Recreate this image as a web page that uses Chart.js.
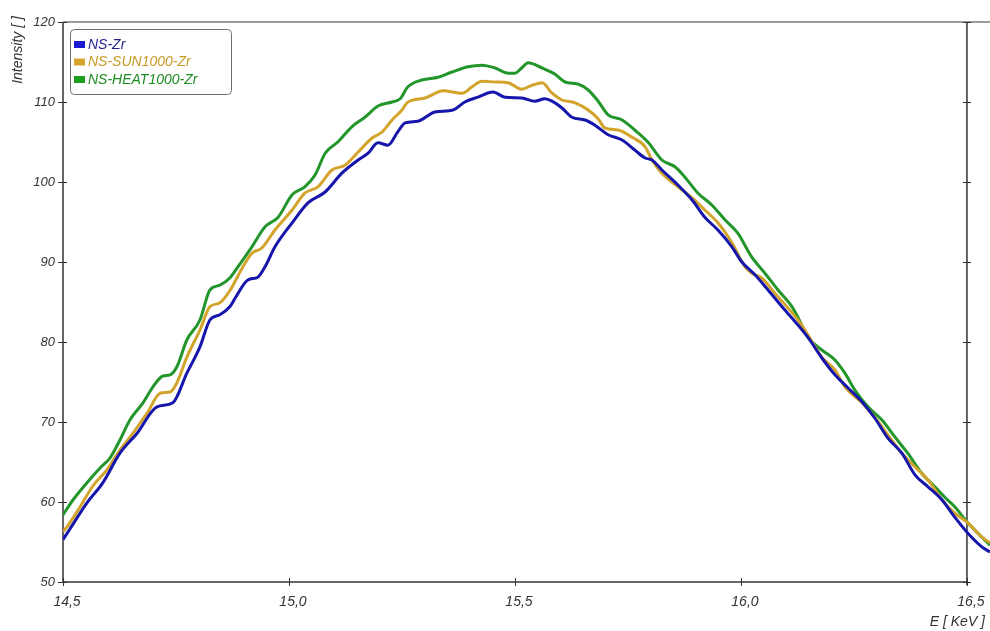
<!DOCTYPE html>
<html>
<head>
<meta charset="utf-8">
<script src="https://cdn.jsdelivr.net/npm/chart.js@4.4.1/dist/chart.umd.min.js"></script>
<style>
  html, body { margin: 0; padding: 0; background: #ffffff; }
  #wrap { width: 990px; height: 631px; position: relative; }
</style>
</head>
<body>
<div id="wrap"><canvas id="c" width="990" height="631"></canvas></div>
<script>
// Zr K-line region: intensity versus photon energy for three samples.

const seriesNames = ['NS-Zr', 'NS-SUN1000-Zr', 'NS-HEAT1000-Zr'];

const energyZr = [14.500, 14.515, 14.553, 14.588, 14.626, 14.664, 14.708, 14.743, 14.774, 14.803,
  14.825, 14.847, 14.869, 14.881, 14.909, 14.931, 14.947, 14.969, 15.007, 15.042,
  15.080, 15.117, 15.153, 15.175, 15.197, 15.219, 15.241, 15.257, 15.285, 15.323,
  15.363, 15.389, 15.418, 15.451, 15.478, 15.515, 15.544, 15.566, 15.582, 15.604,
  15.626, 15.655, 15.677, 15.706, 15.737, 15.765, 15.788, 15.803, 15.825, 15.861,
  15.892, 15.920, 15.949, 15.980, 16.002, 16.031, 16.060, 16.091, 16.119, 16.148,
  16.179, 16.208, 16.237, 16.268, 16.296, 16.325, 16.356, 16.385, 16.414, 16.445,
  16.473, 16.502, 16.533, 16.551];
const intensityZr = [55.3, 56.6, 59.9, 62.4, 66.1, 68.6, 71.9, 72.4, 76.1, 79.4,
  82.75, 83.4, 84.4, 85.5, 87.75, 88.1, 89.4, 91.9, 94.9, 97.4,
  98.75, 101.1, 102.75, 103.6, 104.9, 104.6, 106.3, 107.4, 107.6, 108.75,
  109.0, 110.0, 110.6, 111.25, 110.6, 110.5, 110.1, 110.4, 110.1, 109.25,
  108.1, 107.75, 107.1, 105.9, 105.25, 104.0, 103.0, 102.75, 101.5, 99.6,
  97.75, 95.6, 94.0, 91.9, 90.0, 88.4, 86.5, 84.4, 82.6, 80.6,
  78.0, 75.9, 74.25, 72.5, 70.5, 68.0, 66.1, 63.4, 61.9, 60.25,
  58.1, 56.1, 54.4, 53.75];

const energySun = [14.500, 14.509, 14.538, 14.566, 14.597, 14.626, 14.655, 14.686, 14.715, 14.737,
  14.752, 14.774, 14.803, 14.825, 14.847, 14.869, 14.896, 14.918, 14.940, 14.969,
  15.007, 15.035, 15.064, 15.095, 15.124, 15.153, 15.184, 15.206, 15.228, 15.250,
  15.263, 15.301, 15.341, 15.383, 15.405, 15.427, 15.456, 15.485, 15.515, 15.538,
  15.560, 15.582, 15.604, 15.633, 15.662, 15.684, 15.699, 15.728, 15.759, 15.788,
  15.803, 15.825, 15.861, 15.892, 15.920, 15.949, 15.980, 16.009, 16.024, 16.046,
  16.075, 16.104, 16.126, 16.148, 16.179, 16.208, 16.230, 16.268, 16.296, 16.325,
  16.356, 16.385, 16.414, 16.445, 16.473, 16.502, 16.533, 16.551];
const intensitySun = [56.3, 56.9, 59.4, 62.0, 64.0, 66.5, 68.6, 71.1, 73.6, 73.75,
  74.9, 78.1, 81.5, 84.4, 84.9, 86.4, 89.2, 91.1, 91.75, 94.0,
  96.5, 98.6, 99.4, 101.5, 102.1, 103.75, 105.5, 106.25, 107.75, 109.0,
  110.0, 110.5, 111.4, 111.1, 111.9, 112.6, 112.5, 112.4, 111.6, 112.1,
  112.4, 111.1, 110.25, 109.9, 109.0, 107.9, 106.75, 106.5, 105.6, 104.4,
  102.75, 101.1, 99.4, 98.0, 96.5, 94.9, 92.4, 89.4, 88.6, 88.0,
  86.1, 84.25, 82.75, 80.9, 78.1, 76.5, 74.4, 72.4, 70.6, 68.4,
  66.1, 64.4, 62.75, 60.25, 58.6, 57.4, 55.6, 54.9];

const energyHeat = [14.500, 14.522, 14.553, 14.582, 14.604, 14.626, 14.648, 14.677, 14.699, 14.721,
  14.737, 14.752, 14.774, 14.803, 14.825, 14.847, 14.869, 14.887, 14.918, 14.947,
  14.976, 15.007, 15.035, 15.058, 15.080, 15.108, 15.139, 15.168, 15.197, 15.228,
  15.246, 15.263, 15.294, 15.330, 15.361, 15.396, 15.427, 15.456, 15.485, 15.500,
  15.515, 15.529, 15.560, 15.588, 15.611, 15.639, 15.662, 15.684, 15.706, 15.737,
  15.765, 15.794, 15.825, 15.854, 15.876, 15.905, 15.936, 15.965, 15.993, 16.024,
  16.053, 16.082, 16.113, 16.126, 16.148, 16.179, 16.208, 16.230, 16.252, 16.281,
  16.312, 16.341, 16.369, 16.400, 16.429, 16.451, 16.473, 16.502, 16.533, 16.551];
const intensityHeat = [58.4, 60.25, 62.4, 64.25, 65.5, 67.75, 70.25, 72.4, 74.4, 75.75,
  75.9, 76.9, 80.25, 82.75, 86.5, 87.1, 88.0, 89.4, 91.9, 94.4,
  95.6, 98.4, 99.4, 100.9, 103.6, 105.0, 106.9, 108.1, 109.5, 110.0,
  110.4, 111.9, 112.75, 113.1, 113.75, 114.4, 114.6, 114.25, 113.6, 113.6,
  114.25, 114.9, 114.25, 113.5, 112.5, 112.25, 111.5, 110.1, 108.4, 107.75,
  106.5, 105.0, 102.75, 101.9, 100.6, 98.6, 97.1, 95.25, 93.6, 90.6,
  88.6, 86.5, 84.4, 83.1, 80.6, 79.0, 77.75, 76.1, 74.0, 71.9,
  70.25, 68.1, 66.1, 63.6, 61.9, 60.6, 59.4, 57.4, 55.6, 54.6];

const xTicks = [14.5, 15.0, 15.5, 16.0, 16.5];
const yTicks = [50, 60, 70, 80, 90, 100, 110, 120];

const lineColors = ['#1616ac', '#d3a42c', '#22962a'];
const legendSwatch = ['#1a1ad0', '#d4a52a', '#1e9e1e'];
const legendText = ['#1e1e8e', '#c89a28', '#1f8c22'];

const FONT = 'Liberation Sans, Arial, sans-serif';
const AXIS_COLOR = '#333333';

function pairs(xs, ys) {
  return xs.map((x, i) => ({ x: x, y: ys[i] }));
}

const frame = {
  id: 'frame',
  beforeDatasetsDraw(chart) {
    const { ctx, chartArea: a, scales: { x, y } } = chart;
    const xRight = x.getPixelForValue(16.5);
    ctx.save();
    // top border
    ctx.strokeStyle = '#9a9a9a';
    ctx.lineWidth = 2;
    ctx.beginPath();
    ctx.moveTo(a.left, a.top);
    ctx.lineTo(a.right, a.top);
    ctx.stroke();
    // left, bottom and right axes
    ctx.strokeStyle = AXIS_COLOR;
    ctx.lineWidth = 1.5;
    ctx.beginPath();
    ctx.moveTo(a.left, a.top);
    ctx.lineTo(a.left, a.bottom);
    ctx.lineTo(xRight, a.bottom);
    ctx.moveTo(xRight, a.top);
    ctx.lineTo(xRight, a.bottom + 3);
    ctx.stroke();
    ctx.lineWidth = 1;
    ctx.beginPath();
    yTicks.forEach(v => {
      const py = Math.round(y.getPixelForValue(v)) + 0.5;
      ctx.moveTo(a.left - 5, py); ctx.lineTo(a.left + 4, py);
      ctx.moveTo(xRight - 4, py); ctx.lineTo(xRight + 4, py);
    });
    xTicks.forEach(v => {
      const px = Math.round(x.getPixelForValue(v)) + 0.5;
      ctx.moveTo(px, a.bottom - 4); ctx.lineTo(px, a.bottom + 4);
    });
    ctx.stroke();
    ctx.restore();
  },
  afterDraw(chart) {
    const { ctx } = chart;
    ctx.save();
    // axis titles
    ctx.fillStyle = AXIS_COLOR;
    ctx.font = 'italic 14px ' + FONT;
    ctx.textAlign = 'right';
    ctx.textBaseline = 'middle';
    ctx.fillText('E [ KeV ]', 985, 622);
    ctx.translate(18, 50);
    ctx.rotate(-Math.PI / 2);
    ctx.textAlign = 'center';
    ctx.fillText('Intensity [ ]', 0, 0);
    ctx.setTransform(1, 0, 0, 1, 0, 0);

    // legend box
    const bx = 70.5, by = 29.5, bw = 161, bh = 65, r = 4;
    ctx.beginPath();
    ctx.moveTo(bx + r, by);
    ctx.lineTo(bx + bw - r, by);
    ctx.arcTo(bx + bw, by, bx + bw, by + r, r);
    ctx.lineTo(bx + bw, by + bh - r);
    ctx.arcTo(bx + bw, by + bh, bx + bw - r, by + bh, r);
    ctx.lineTo(bx + r, by + bh);
    ctx.arcTo(bx, by + bh, bx, by + bh - r, r);
    ctx.lineTo(bx, by + r);
    ctx.arcTo(bx, by, bx + r, by, r);
    ctx.closePath();
    ctx.fillStyle = '#ffffff';
    ctx.fill();
    ctx.strokeStyle = '#6e6e6e';
    ctx.lineWidth = 1;
    ctx.stroke();

    ctx.font = 'italic 14px ' + FONT;
    ctx.textAlign = 'left';
    ctx.textBaseline = 'middle';
    seriesNames.forEach((name, i) => {
      const cy = 45 + i * 17.5;
      ctx.fillStyle = legendSwatch[i];
      ctx.fillRect(74, cy - 4, 11, 7);
      ctx.fillStyle = legendText[i];
      ctx.fillText(name, 88, cy);
    });
    ctx.restore();
  }
};

const ds = (i, xs, ys) => ({
  label: seriesNames[i],
  data: pairs(xs, ys),
  borderColor: lineColors[i],
  backgroundColor: lineColors[i],
  borderWidth: 3,
  pointRadius: 0,
  fill: false,
  tension: 0.4,
  cubicInterpolationMode: 'monotone'
});

new Chart(document.getElementById('c'), {
  type: 'line',
  data: {
    datasets: [
      ds(0, energyZr, intensityZr),
      ds(1, energySun, intensitySun),
      ds(2, energyHeat, intensityHeat)
    ]
  },
  options: {
    responsive: false,
    animation: false,
    devicePixelRatio: 1,
    layout: { padding: { top: 22, right: 0, left: 0, bottom: 0 } },
    plugins: { legend: { display: false }, tooltip: { enabled: false } },
    scales: {
      x: {
        type: 'linear',
        min: 14.5,
        max: 16.551,
        afterBuildTicks: s => { s.ticks = xTicks.map(v => ({ value: v })); },
        afterFit: s => { s.height = 49; s.paddingLeft = 0; s.paddingRight = 0; },
        grid: { display: false, drawTicks: false },
        border: { display: false },
        ticks: {
          autoSkip: false,
          maxRotation: 0,
          padding: 12,
          labelOffset: 4,
          color: AXIS_COLOR,
          font: { family: FONT, size: 14, style: 'italic' },
          callback: v => v.toFixed(1).replace('.', ',')
        }
      },
      y: {
        type: 'linear',
        min: 50,
        max: 120,
        afterBuildTicks: s => { s.ticks = yTicks.map(v => ({ value: v })); },
        afterFit: s => { s.width = 63; s.paddingTop = 0; s.paddingBottom = 0; },
        grid: { display: false, drawTicks: false },
        border: { display: false },
        ticks: {
          padding: 8,
          color: AXIS_COLOR,
          font: { family: FONT, size: 13, style: 'italic' },
          callback: v => String(v)
        }
      }
    }
  },
  plugins: [frame]
});
</script>
</body>
</html>
